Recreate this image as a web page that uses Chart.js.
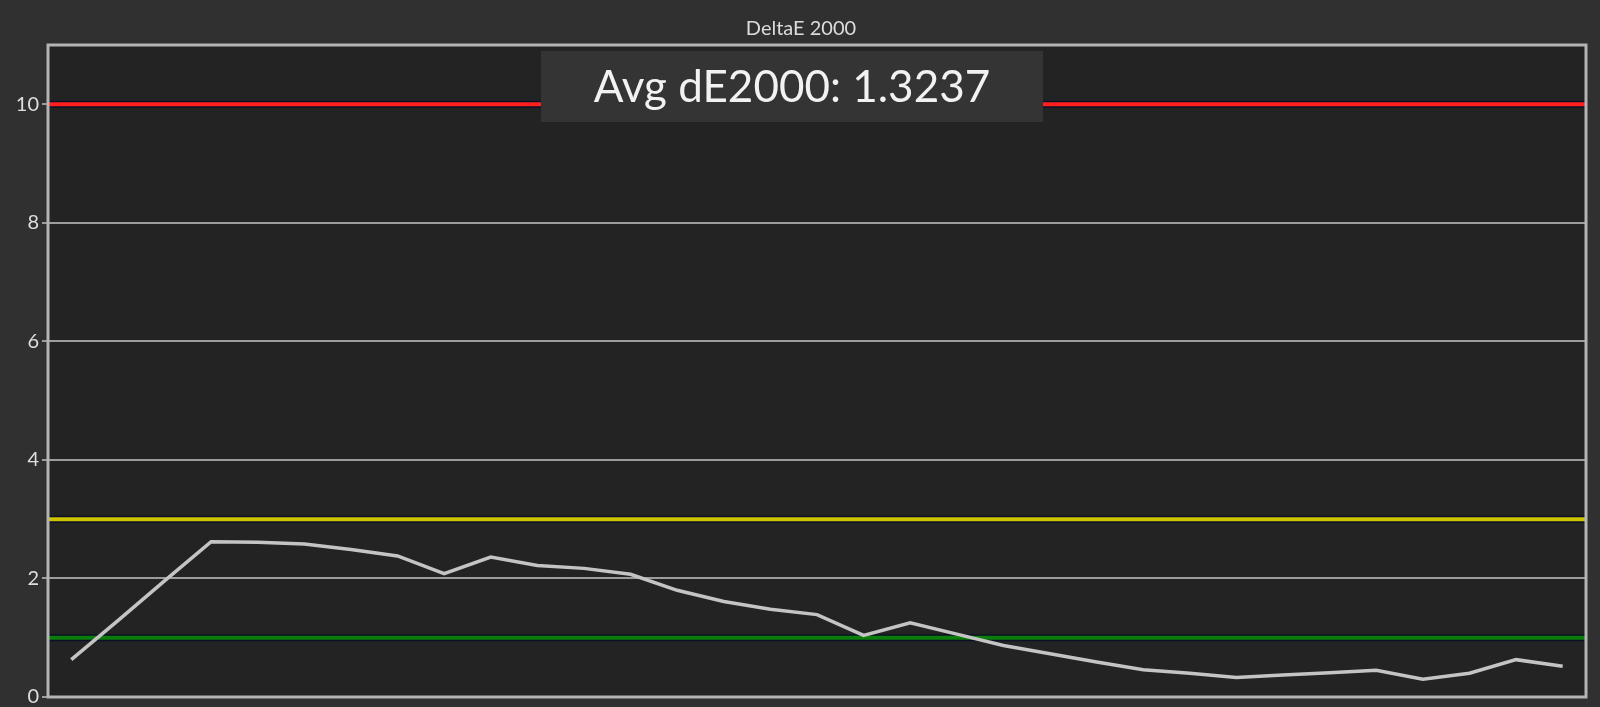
<!DOCTYPE html>
<html>
<head>
<meta charset="utf-8">
<script src="https://cdn.jsdelivr.net/npm/chart.js@4/dist/chart.umd.min.js"></script>
<style>
  html, body { margin: 0; padding: 0; background: #303030; }
  #wrap { width: 1600px; height: 707px; }
</style>
</head>
<body>
<div id="wrap"><canvas id="de-chart" width="1600" height="707"></canvas></div>
<script>
// patch index, one value per measured colour
const patches = [
  "1", "2", "3", "4", "5", "6", "7", "8", "9", "10", "11",
  "12", "13", "14", "15", "16", "17", "18", "19", "20", "21", "22",
  "23", "24", "25", "26", "27", "28", "29", "30", "31", "32", "33",
];
const deltaE = [
  0.63, 1.29, 1.96, 2.62, 2.61, 2.58, 2.49, 2.38, 2.08, 2.36, 2.22,
  2.17, 2.07, 1.80, 1.61, 1.48, 1.39, 1.04, 1.25, 1.06, 0.87, 0.73,
  0.59, 0.46, 0.40, 0.33, 0.37, 0.41, 0.45, 0.30, 0.40, 0.63, 0.52,
];
const yTicks = [0, 2, 4, 6, 8, 10];
const refLevels = [10, 3, 1];
const refColors = ["#ff1f1f", "#cfc400", "#0b7d0b"];
const titleText = "DeltaE 2000";
const avgText = "Avg dE2000: 1.3237";

const FONT = "Lato, 'Open Sans', sans-serif";

// plot background, reference lines, frame, title and avg label
const decor = {
  id: "decor",
  beforeDraw(chart) {
    const { ctx, chartArea: a } = chart;
    ctx.save();
    ctx.fillStyle = "#232323";
    ctx.fillRect(a.left, a.top, a.right - a.left, a.bottom - a.top);
    ctx.restore();
  },
  beforeDatasetsDraw(chart) {
    const { ctx, chartArea: a, scales } = chart;
    ctx.save();
    refLevels.forEach((v, i) => {
      const y = scales.y.getPixelForValue(v);
      ctx.strokeStyle = "rgba(10,15,40,0.9)";
      ctx.lineWidth = 7;
      ctx.beginPath();
      ctx.moveTo(a.left, y);
      ctx.lineTo(a.right, y);
      ctx.stroke();
      ctx.strokeStyle = refColors[i];
      ctx.lineWidth = 4;
      ctx.beginPath();
      ctx.moveTo(a.left, y);
      ctx.lineTo(a.right, y);
      ctx.stroke();
    });
    ctx.restore();
  },
  afterDraw(chart) {
    const { ctx, chartArea: a } = chart;
    ctx.save();
    ctx.strokeStyle = "#b4b4b4";
    ctx.lineWidth = 3;
    ctx.strokeRect(a.left, a.top, a.right - a.left, a.bottom - a.top);

    ctx.fillStyle = "#dcdcdc";
    ctx.font = `20px ${FONT}`;
    ctx.textAlign = "center";
    ctx.textBaseline = "middle";
    ctx.fillText(titleText, a.left + 753, a.top - 16);

    // avg box
    const bx = a.left + 493, by = a.top + 6, bw = 502, bh = 71;
    ctx.fillStyle = "#343434";
    ctx.fillRect(bx, by, bw, bh);
    ctx.fillStyle = "#f2f2f2";
    ctx.font = `44px ${FONT}`;
    ctx.fillText(avgText, bx + bw / 2, by + bh / 2 + 1);
    ctx.restore();
  },
};

new Chart(document.getElementById("de-chart").getContext("2d"), {
  type: "line",
  data: {
    labels: patches,
    datasets: [
      {
        label: "dE2000",
        data: deltaE,
        borderColor: "#c4c4c4",
        borderWidth: 3.5,
        pointRadius: 0,
        tension: 0,
      },
    ],
  },
  options: {
    responsive: false,
    animation: false,
    layout: { padding: { left: 0, top: 45, right: 14, bottom: 10 } },
    plugins: {
      legend: { display: false },
      tooltip: { enabled: false },
    },
    scales: {
      x: {
        type: "category",
        offset: true,
        display: false,
      },
      y: {
        min: 0,
        max: 11,
        afterBuildTicks(scale) {
          scale.ticks = yTicks.map((v) => ({ value: v }));
        },
        afterFit(scale) {
          scale.width = 48;
          scale.paddingTop = 0;
          scale.paddingBottom = 0;
        },
        border: { display: false },
        grid: {
          color: "#9c9c9c",
          lineWidth: 2,
          tickLength: 6,
          drawTicks: true,
        },
        ticks: {
          color: "#dedede",
          padding: 3,
          font: { family: FONT, size: 20 },
        },
      },
    },
  },
  plugins: [decor],
});
</script>
</body>
</html>
